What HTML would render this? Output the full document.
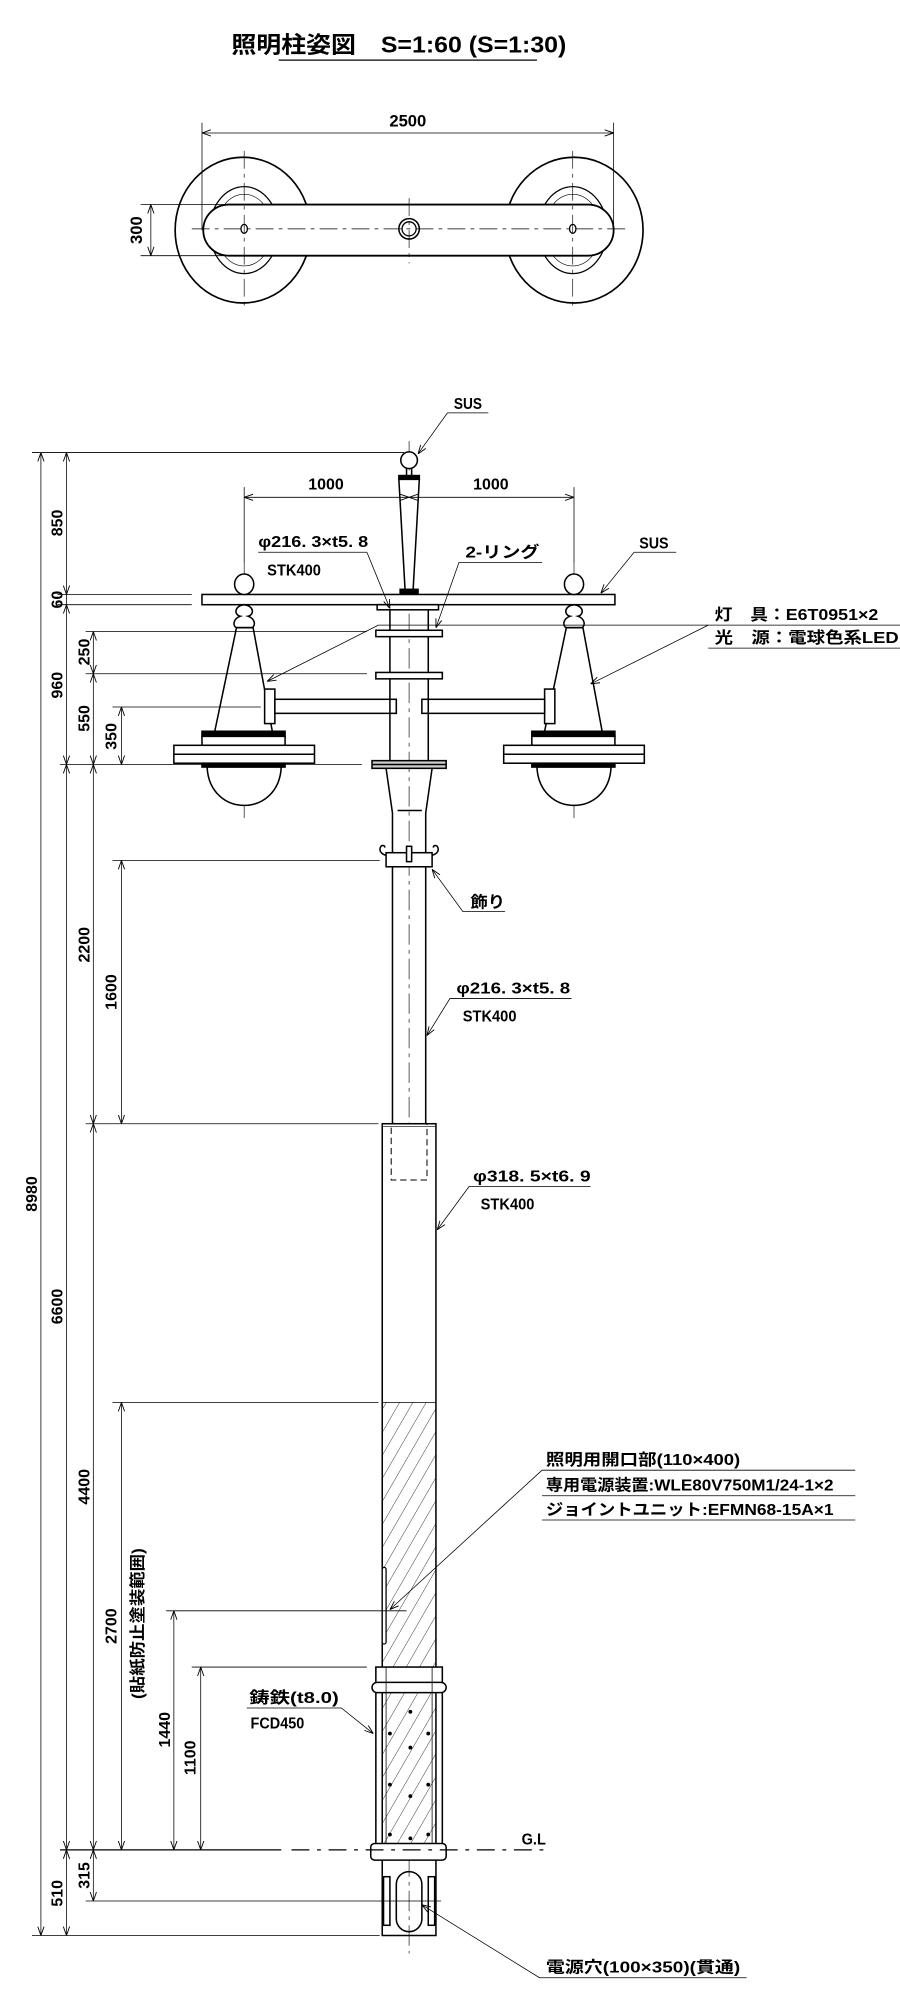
<!DOCTYPE html>
<html><head><meta charset="utf-8"><style>
html,body{margin:0;padding:0;background:#fff;}
svg{display:block;}
text{font-family:"Liberation Sans Narrow","Liberation Sans","Noto Sans CJK JP",sans-serif;font-weight:bold;fill:#000;}
</style></head><body>
<svg width="900" height="2002" viewBox="0 0 704 1566" preserveAspectRatio="none" xmlns="http://www.w3.org/2000/svg">
<defs>
<marker id="a" viewBox="0 0 10 10" refX="10" refY="5" markerWidth="7" markerHeight="7" orient="auto-start-reverse" markerUnits="userSpaceOnUse"><path d="M0,1.5 L10,5 L0,8.5" fill="none" stroke="#000" stroke-width="1"/></marker>
<marker id="b" viewBox="0 0 10 10" refX="10" refY="5" markerWidth="7" markerHeight="7" orient="auto" markerUnits="userSpaceOnUse"><path d="M0,1.5 L10,5 L0,8.5" fill="none" stroke="#000" stroke-width="1"/></marker>
<pattern id="h" width="9" height="9" patternUnits="userSpaceOnUse" patternTransform="rotate(30)"><line x1="0" y1="0" x2="0" y2="9" stroke="#000" stroke-width="0.6"/></pattern>
</defs>

<!-- Title -->
<text x="312" y="41" font-size="18" text-anchor="middle" textLength="262" lengthAdjust="spacingAndGlyphs" font-family="'Liberation Sans','Noto Sans CJK JP',sans-serif">照明柱姿図　S=1:60 (S=1:30)</text>
<line x1="218" y1="47" x2="420" y2="47" stroke="#000" stroke-width="1"/>

<!-- Plan view -->
<g fill="none" stroke="#000">
<line x1="158" y1="96" x2="158" y2="180" stroke-width="0.6"/>
<line x1="480" y1="96" x2="480" y2="180" stroke-width="0.6"/>
<line x1="158" y1="104" x2="480" y2="104" stroke-width="0.6" marker-start="url(#a)" marker-end="url(#a)"/>
<ellipse cx="190" cy="180" rx="53" ry="57" stroke-width="1.3"/>
<ellipse cx="449" cy="180" rx="54" ry="57" stroke-width="1.3"/>
<ellipse cx="191" cy="180" rx="27" ry="34" stroke-width="1"/>
<ellipse cx="191" cy="180" rx="22" ry="28" stroke-width="0.5"/>
<ellipse cx="448" cy="180" rx="27" ry="34" stroke-width="1"/>
<ellipse cx="448" cy="180" rx="22" ry="28" stroke-width="0.5"/>
<path d="M179,160 H460 A20,20 0 0 1 460,200 H179 A20,20 0 0 1 179,160 Z" fill="#fff" stroke-width="1.4"/>
<circle cx="320" cy="179" r="8" stroke-width="1.2"/>
<circle cx="320" cy="179" r="5.5" stroke-width="1"/>
<ellipse cx="191" cy="179" rx="2.5" ry="3.5" stroke-width="1"/>
<ellipse cx="448" cy="179" rx="2.5" ry="3.5" stroke-width="1"/>
<line x1="150" y1="179" x2="490" y2="179" stroke-width="0.6" stroke-dasharray="14,4,3,4"/>
<line x1="191" y1="118" x2="191" y2="242" stroke-width="0.5" stroke-dasharray="14,4,3,4"/>
<line x1="448" y1="118" x2="448" y2="242" stroke-width="0.5" stroke-dasharray="14,4,3,4"/>
<line x1="320" y1="155" x2="320" y2="206" stroke-width="0.5" stroke-dasharray="14,4,3,4"/>
<line x1="110" y1="160" x2="178" y2="160" stroke-width="0.6"/>
<line x1="110" y1="200" x2="178" y2="200" stroke-width="0.6"/>
<line x1="118" y1="160" x2="118" y2="200" stroke-width="0.6" marker-start="url(#a)" marker-end="url(#a)"/>
</g>
<text x="319" y="99" font-size="13" text-anchor="middle">2500</text>
<text transform="translate(111,180) rotate(-90)" font-size="13" text-anchor="middle">300</text>

<!-- centerline of pole -->
<line x1="320" y1="345" x2="320" y2="1528" stroke="#000" stroke-width="0.5" stroke-dasharray="16,4,3,4"/>
<line x1="191" y1="440" x2="191" y2="640" stroke="#000" stroke-width="0.5" stroke-dasharray="16,4,3,4"/>
<line x1="449" y1="440" x2="449" y2="640" stroke="#000" stroke-width="0.5" stroke-dasharray="16,4,3,4"/>

<!-- Elevation: top -->
<g fill="#fff" stroke="#000" stroke-width="1.2">
<ellipse cx="320" cy="360" rx="6.5" ry="6.5"/>
<path d="M318,366 L318,373 M322,366 L322,373" fill="none"/>
<rect x="312" y="372" width="16" height="3" fill="#000"/>
<path d="M312,375 L328,375 L323,464 L317,464 Z"/>
<rect x="313" y="461" width="14" height="4" fill="#000"/>
<rect x="158" y="465" width="323" height="8"/>
<!-- side finials -->
<ellipse cx="191" cy="457" rx="7.5" ry="8"/>
<ellipse cx="449" cy="457" rx="7.5" ry="8"/>
<path d="M191,473 c-8,1 -8,8 -3,9 c-6,2 -6,8 -3,9 l12,0 c3,-1 3,-7 -3,-9 c5,-1 5,-8 -3,-9 z"/>
<path d="M449,473 c-8,1 -8,8 -3,9 c-6,2 -6,8 -3,9 l12,0 c3,-1 3,-7 -3,-9 c5,-1 5,-8 -3,-9 z"/>
<!-- cones -->
<path d="M185,491 L198,491 L213,572 L168,572 Z"/>
<path d="M443,491 L456,491 L471,572 L426,572 Z"/>
<!-- brackets and arms -->
<rect x="207" y="539" width="8" height="27"/>
<rect x="426" y="539" width="8" height="27"/>
<rect x="215" y="547" width="95" height="11"/>
<rect x="330" y="547" width="96" height="11"/>
<!-- fixtures -->
<rect x="158" y="572" width="65" height="4" fill="#000"/>
<rect x="158" y="576" width="65" height="7"/>
<rect x="136" y="583" width="110" height="14"/>
<line x1="136" y1="590" x2="246" y2="590"/>
<rect x="158" y="597" width="65" height="3" fill="#000"/>
<path d="M162,600 C164,640 218,640 220,600 Z"/>
<rect x="416" y="572" width="65" height="4" fill="#000"/>
<rect x="416" y="576" width="65" height="7"/>
<rect x="394" y="583" width="110" height="14"/>
<line x1="394" y1="590" x2="504" y2="590"/>
<rect x="416" y="597" width="65" height="3" fill="#000"/>
<path d="M420,600 C422,640 476,640 478,600 Z"/>
<!-- upper pole -->
<path d="M305,477 L305,595 M335,477 L335,595" fill="none"/>
<rect x="295" y="473" width="48" height="4"/>
<rect x="294" y="493" width="52" height="5"/>
<rect x="294" y="526" width="52" height="5"/>
<rect x="291" y="595" width="58" height="6" fill="#ccc"/>
<line x1="291" y1="598" x2="349" y2="598"/>
<path d="M302,601 L307,636 L307,879 M338,601 L333,636 L333,879" fill="none"/>
<line x1="311" y1="634" x2="330" y2="634"/>
<!-- decoration -->
<rect x="302" y="667" width="36" height="11"/>
<rect x="318" y="662" width="4" height="12" fill="#fff"/>
<path d="M302,669 c-4,-1 -6,-4 -4,-7 c1,-1 3,-1 3,1 M338,669 c4,-1 6,-4 4,-7 c-1,-1 -3,-1 -3,1" fill="none"/>
<!-- lower pole -->
<rect x="299" y="879" width="42" height="570"/>
</g>
<rect x="306" y="879" width="28" height="44" fill="none" stroke="#000" stroke-width="0.8" stroke-dasharray="5,3"/>
<line x1="299" y1="881" x2="341" y2="881" stroke="#000" stroke-width="0.5"/>
<!-- hatch -->
<rect x="299" y="1097" width="42" height="350" fill="url(#h)" stroke="none"/>
<line x1="299" y1="1097" x2="341" y2="1097" stroke="#000" stroke-width="0.6"/>
<rect x="299" y="1226" width="3" height="60" rx="1.5" fill="#fff" stroke="#000" stroke-width="1"/>
<!-- base cover -->
<g fill="none" stroke="#000" stroke-width="1.2">
<rect x="294" y="1304" width="52" height="13" fill="#fff"/>
<rect x="291" y="1316" width="58" height="8" rx="4" fill="#fff"/>
<path d="M294,1324 V1442 M346,1324 V1442"/>
<path d="M302,1304 V1442 M338,1304 V1442" stroke-width="0.6"/>
<rect x="290" y="1442" width="59" height="13" rx="3" fill="#fff"/>
<path d="M299,1455 V1514 H341 V1455"/>
<rect x="300" y="1468" width="5" height="38"/>
<rect x="335" y="1468" width="5" height="38"/>
<rect x="310" y="1464" width="20" height="47" rx="10"/>
</g>
<g fill="#000">
<circle cx="321" cy="1339" r="1.5"/><circle cx="305" cy="1356" r="1.5"/><circle cx="335" cy="1356" r="1.5"/>
<circle cx="321" cy="1367" r="1.5"/><circle cx="305" cy="1396" r="1.5"/><circle cx="335" cy="1396" r="1.5"/>
<circle cx="321" cy="1405" r="1.5"/><circle cx="305" cy="1435" r="1.5"/><circle cx="335" cy="1435" r="1.5"/><circle cx="321" cy="1438" r="1.5"/>
</g>

<!-- dimension & extension lines -->
<g stroke="#000" stroke-width="0.6" fill="none">
<line x1="25" y1="354" x2="316" y2="354"/>
<line x1="45" y1="465" x2="150" y2="465"/>
<line x1="45" y1="473" x2="150" y2="473"/>
<line x1="67" y1="494" x2="287" y2="494"/>
<line x1="67" y1="527" x2="287" y2="527"/>
<line x1="88" y1="553" x2="204" y2="553"/>
<line x1="47" y1="598" x2="283" y2="598"/>
<line x1="88" y1="673" x2="297" y2="673"/>
<line x1="67" y1="879" x2="296" y2="879"/>
<line x1="88" y1="1097" x2="296" y2="1097"/>
<line x1="130" y1="1260" x2="318" y2="1260"/>
<line x1="150" y1="1304" x2="287" y2="1304"/>
<line x1="47" y1="1447" x2="220" y2="1447" stroke-width="0.9"/>
<line x1="228" y1="1447" x2="430" y2="1447" stroke-width="0.9" stroke-dasharray="14,6,3,6"/>
<line x1="67" y1="1487" x2="345" y2="1487"/>
<line x1="25" y1="1514" x2="297" y2="1514"/>
<line x1="191" y1="381" x2="191" y2="440"/>
<line x1="449" y1="381" x2="449" y2="440"/>
<line x1="191" y1="389" x2="320" y2="389" marker-start="url(#a)" marker-end="url(#a)"/>
<line x1="320" y1="389" x2="449" y2="389" marker-start="url(#a)" marker-end="url(#a)"/>
<line x1="32" y1="354" x2="32" y2="1514" marker-start="url(#a)" marker-end="url(#a)"/>
<line x1="52" y1="354" x2="52" y2="465" marker-start="url(#a)" marker-end="url(#a)"/>
<line x1="52" y1="465" x2="52" y2="473"/>
<line x1="52" y1="473" x2="52" y2="598" marker-start="url(#a)" marker-end="url(#a)"/>
<line x1="52" y1="598" x2="52" y2="1447" marker-start="url(#a)" marker-end="url(#a)"/>
<line x1="52" y1="1447" x2="52" y2="1514" marker-start="url(#a)" marker-end="url(#a)"/>
<line x1="73" y1="494" x2="73" y2="527" marker-start="url(#a)" marker-end="url(#a)"/>
<line x1="73" y1="527" x2="73" y2="598" marker-start="url(#a)" marker-end="url(#a)"/>
<line x1="73" y1="598" x2="73" y2="879" marker-start="url(#a)" marker-end="url(#a)"/>
<line x1="73" y1="879" x2="73" y2="1447" marker-start="url(#a)" marker-end="url(#a)"/>
<line x1="73" y1="1447" x2="73" y2="1487" marker-start="url(#a)" marker-end="url(#a)"/>
<line x1="95" y1="553" x2="95" y2="598" marker-start="url(#a)" marker-end="url(#a)"/>
<line x1="95" y1="673" x2="95" y2="879" marker-start="url(#a)" marker-end="url(#a)"/>
<line x1="95" y1="1097" x2="95" y2="1447" marker-start="url(#a)" marker-end="url(#a)"/>
<line x1="136" y1="1260" x2="136" y2="1447" marker-start="url(#a)" marker-end="url(#a)"/>
<line x1="157" y1="1304" x2="157" y2="1447" marker-start="url(#a)" marker-end="url(#a)"/>
<!-- leaders -->
<polyline points="382,323 350,323 327,355" marker-end="url(#b)"/>
<polyline points="529,432 496,432 470,464" marker-end="url(#b)"/>
<polyline points="287,432 202,432"/>
<line x1="287" y1="432" x2="305" y2="476" marker-end="url(#b)"/>
<polyline points="424,440 359,440 341,491" marker-end="url(#b)"/>
<line x1="296" y1="489" x2="705" y2="489"/>
<line x1="554" y1="507" x2="705" y2="507"/>
<line x1="296" y1="489" x2="209" y2="533" marker-end="url(#b)"/>
<line x1="554" y1="489" x2="462" y2="535" marker-end="url(#b)"/>
<polyline points="395,713 362,713 338,680" marker-end="url(#b)"/>
<polyline points="447,781 352,781 334,810" marker-end="url(#b)"/>
<polyline points="462,928 367,928 342,962" marker-end="url(#b)"/>
<line x1="424" y1="1150" x2="669" y2="1150"/>
<line x1="424" y1="1170" x2="669" y2="1170"/>
<line x1="424" y1="1189" x2="669" y2="1189"/>
<line x1="424" y1="1150" x2="305" y2="1259" marker-end="url(#b)"/>
<polyline points="193,1336 267,1336 292,1356" marker-end="url(#b)"/>
<polyline points="584,1547 422,1547 330,1490" marker-end="url(#b)"/>
</g>

<!-- dimension texts -->
<g font-size="12.5" text-anchor="middle">
<text x="255" y="383">1000</text>
<text x="384" y="383">1000</text>
<text transform="translate(29,934) rotate(-90)">8980</text>
<text transform="translate(49,409) rotate(-90)">850</text>
<text transform="translate(49,469) rotate(-90)">60</text>
<text transform="translate(49,536) rotate(-90)">960</text>
<text transform="translate(49,1022) rotate(-90)">6600</text>
<text transform="translate(49,1481) rotate(-90)">510</text>
<text transform="translate(70,510) rotate(-90)">250</text>
<text transform="translate(70,562) rotate(-90)">550</text>
<text transform="translate(70,739) rotate(-90)">2200</text>
<text transform="translate(70,1163) rotate(-90)">4400</text>
<text transform="translate(70,1467) rotate(-90)">315</text>
<text transform="translate(91,576) rotate(-90)">350</text>
<text transform="translate(91,776) rotate(-90)">1600</text>
<text transform="translate(91,1272) rotate(-90)">2700</text>
<text transform="translate(133,1353) rotate(-90)">1440</text>
<text transform="translate(153,1375) rotate(-90)">1100</text>
<text transform="translate(112,1270) rotate(-90)" font-family="'Liberation Sans','Noto Sans CJK JP',sans-serif" textLength="118" lengthAdjust="spacingAndGlyphs">(貼紙防止塗装範囲)</text>
</g>

<!-- labels -->
<g font-size="12.5" font-family="'Liberation Sans','Noto Sans CJK JP',sans-serif">
<text x="355" y="320" textLength="22" lengthAdjust="spacingAndGlyphs">SUS</text>
<text x="500" y="429" textLength="23" lengthAdjust="spacingAndGlyphs">SUS</text>
<text x="202" y="428" textLength="86" lengthAdjust="spacingAndGlyphs">φ216. 3×t5. 8</text>
<text x="209" y="450" textLength="42" lengthAdjust="spacingAndGlyphs">STK400</text>
<text x="364" y="436" textLength="58" lengthAdjust="spacingAndGlyphs">2-リング</text>
<text x="559" y="485" textLength="128" lengthAdjust="spacingAndGlyphs">灯　具：E6T0951×2</text>
<text x="559" y="503" textLength="144" lengthAdjust="spacingAndGlyphs">光　源：電球色系LED</text>
<text x="368" y="710" textLength="27" lengthAdjust="spacingAndGlyphs">飾り</text>
<text x="357" y="777" textLength="89" lengthAdjust="spacingAndGlyphs">φ216. 3×t5. 8</text>
<text x="362" y="799" textLength="42" lengthAdjust="spacingAndGlyphs">STK400</text>
<text x="370" y="924" textLength="92" lengthAdjust="spacingAndGlyphs">φ318. 5×t6. 9</text>
<text x="376" y="946" textLength="42" lengthAdjust="spacingAndGlyphs">STK400</text>
<text x="427" y="1146" textLength="152" lengthAdjust="spacingAndGlyphs">照明用開口部(110×400)</text>
<text x="427" y="1166" textLength="225" lengthAdjust="spacingAndGlyphs">専用電源装置:WLE80V750M1/24-1×2</text>
<text x="427" y="1185" textLength="225" lengthAdjust="spacingAndGlyphs">ジョイントユニット:EFMN68-15A×1</text>
<text x="195" y="1332" textLength="70" lengthAdjust="spacingAndGlyphs">鋳鉄(t8.0)</text>
<text x="196" y="1352" textLength="42" lengthAdjust="spacingAndGlyphs">FCD450</text>
<text x="408" y="1443" textLength="19" lengthAdjust="spacingAndGlyphs">G.L</text>
<text x="427" y="1543" textLength="152" lengthAdjust="spacingAndGlyphs">電源穴(100×350)(貫通)</text>
</g>
</svg>
</body></html>
